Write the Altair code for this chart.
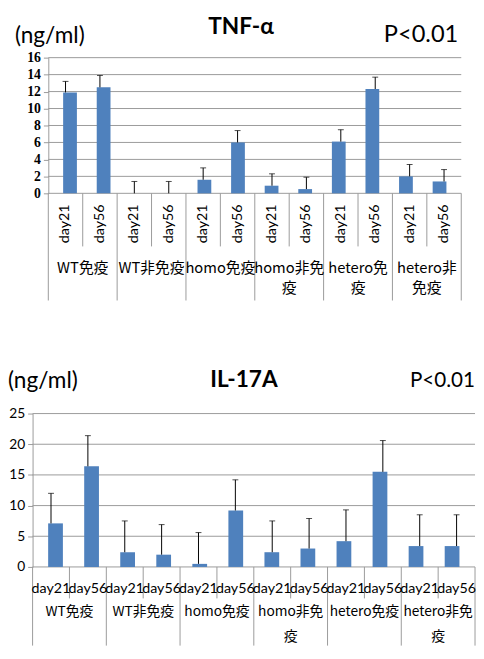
import altair as alt
import pandas as pd

days = ["day21", "day56"]

tnf_groups = ["WT免疫", "WT非免疫", "homo免疫", "homo非免\n疫", "hetero免\n疫", "hetero非\n免疫"]
tnf_mean = [11.9, 12.5, 0.0, 0.0, 1.6, 6.0, 0.9, 0.5, 6.1, 12.3, 2.0, 1.4]
tnf_sd = [1.3, 1.4, 1.4, 1.4, 1.4, 1.4, 1.4, 1.4, 1.4, 1.4, 1.4, 1.4]
tnf_ticks = [0, 2, 4, 6, 8, 10, 12, 14, 16]

il_groups = ["WT免疫", "WT非免疫", "homo免疫", "homo非免\n疫", "hetero免疫", "hetero非免\n疫"]
il_mean = [7.1, 16.4, 2.4, 2.0, 0.5, 9.2, 2.4, 3.0, 4.2, 15.5, 3.4, 3.4]
il_sd = [4.9, 5.0, 5.1, 4.9, 5.1, 5.0, 5.1, 4.9, 5.1, 5.1, 5.1, 5.1]
il_ticks = [0, 5, 10, 15, 20, 25]

BAR = "#4F81BD"
GRID = "#9a9a9a"
SANS = "Lato"
CJK = "Noto Sans CJK JP"
VIEW_W, VIEW_H = 476, 643


def panel(title, means, sds, groups, ticks, c):
    n = len(means)
    bars = pd.DataFrame({
        "pos": [i + 0.5 for i in range(n)],
        "mean": means,
        "upper": [m + s for m, s in zip(means, sds)],
        "day": [days[i % 2] for i in range(n)],
    })
    grp = pd.DataFrame({"pos": [2 * j + 1 for j in range(len(groups))], "label": groups})
    short_b = pd.DataFrame({"b": [2 * j + 1 for j in range(len(groups))]})
    long_b = pd.DataFrame({"b": [2 * j for j in range(len(groups) + 1)]})
    grid = pd.DataFrame({"v": ticks, "x0": [0] * len(ticks), "x1": [n] * len(ticks)})

    def X(f):
        return alt.X(f, scale=alt.Scale(domain=[0, n], range=c["xr"], nice=False, zero=False),
                     axis=None)

    def Y(f, axis=None):
        return alt.Y(f, scale=alt.Scale(domain=[ticks[0], ticks[-1]], range=c["yr"], nice=False),
                     axis=axis, title=None)

    yaxis = alt.Axis(values=ticks, grid=False, orient="left", offset=-c["xr"][0],
                     domainColor=GRID, tickColor=GRID, tickSize=5,
                     labelOverlap=False, labelFlush=False,
                     labelFont=c["tickfont"], labelFontWeight=c["tickweight"],
                     labelFontSize=c["ticksize"], labelColor="#000", labelPadding=3)

    gridl = alt.Chart(grid).mark_rule(color=GRID, strokeWidth=1).encode(
        x=X("x0:Q"), x2="x1:Q", y=Y("v:Q"))
    bar = alt.Chart(bars).mark_bar(width=c["barw"], color=BAR).encode(
        x=X("pos:Q"), y=Y("mean:Q", yaxis))
    err = alt.Chart(bars).mark_rule(color="#000", strokeWidth=1).encode(
        x=X("pos:Q"), y=Y("mean:Q"), y2="upper:Q")
    cap = alt.Chart(bars).mark_tick(color="#000", orient="horizontal", size=6, thickness=1).encode(
        x=X("pos:Q"), y=Y("upper:Q"))
    daytxt = alt.Chart(bars).mark_text(
        font=SANS, fontSize=c["dayfs"], angle=c["dayangle"], align="center",
        baseline="middle", color="#000").encode(
        x=X("pos:Q"), y=alt.value(c["dayy"]), text="day:N")
    grptxt = alt.Chart(grp).mark_text(
        font=CJK, fontSize=c["grpfs"], align="center", baseline="top", lineBreak="\n",
        lineHeight=c["grplh"], color="#000").encode(
        x=X("pos:Q"), y=alt.value(c["grpy"]), text="label:N")
    sb = alt.Chart(short_b).mark_rule(color=GRID, strokeWidth=1).encode(
        x=X("b:Q"), y=alt.value(c["yr"][0]), y2=alt.value(c["shortEnd"]))
    lb = alt.Chart(long_b).mark_rule(color=GRID, strokeWidth=1).encode(
        x=X("b:Q"), y=alt.value(c["yr"][0]), y2=alt.value(c["longEnd"]))

    one = pd.DataFrame({"t": [title]})
    ttl = alt.Chart(one).mark_text(font=SANS, fontSize=c["titlefs"], fontWeight="bold",
                                   align="center", baseline="middle", color="#000").encode(
        x=alt.value(c["titlex"]), y=alt.value(c["titley"]), text="t:N")
    unit = alt.Chart(one).mark_text(font=SANS, fontSize=c["unitfs"], align="left",
                                    baseline="middle", color="#000", text="(ng/ml)").encode(
        x=alt.value(c["unitx"]), y=alt.value(c["unity"]))
    pv = alt.Chart(one).mark_text(font=SANS, fontSize=c["pfs"], align="right",
                                  baseline="middle", color="#000", text="P<0.01").encode(
        x=alt.value(c["px"]), y=alt.value(c["py"]))
    return [gridl, bar, err, cap, sb, lb, daytxt, grptxt, ttl, unit, pv]


top_layers = panel("TNF-α", tnf_mean, tnf_sd, tnf_groups, tnf_ticks, dict(
    xr=[41, 461], yr=[183, 45], barw=14,
    tickfont="Liberation Serif", tickweight="bold", ticksize=14,
    dayfs=14.5, dayangle=270, dayy=214, grpfs=15, grplh=20, grpy=252,
    shortEnd=237, longEnd=292, titlefs=23, titlex=237, titley=14,
    unitfs=23, unitx=7, unity=23, pfs=24, px=458, py=22))

bottom_layers = panel("IL-17A", il_mean, il_sd, il_groups, il_ticks, dict(
    xr=[25, 475], yr=[563, 407], barw=15,
    tickfont=SANS, tickweight="normal", ticksize=14,
    dayfs=14.5, dayangle=0, dayy=586, grpfs=14, grplh=25, grpy=602,
    shortEnd=595, longEnd=643, titlefs=23, titlex=240, titley=373,
    unitfs=23, unitx=0, unity=374, pfs=21, px=475, py=374))

chart = alt.layer(*top_layers, *bottom_layers).resolve_scale(
    x="independent", y="independent"
).resolve_axis(y="independent").properties(
    width=VIEW_W, height=VIEW_H,
    autosize=alt.AutoSizeParams(type="none"),
    padding={"left": 0, "top": 0, "right": 0, "bottom": 0},
).configure_view(stroke=None)

chart.save("out.html", embed_options={"renderer": "svg", "actions": False})
